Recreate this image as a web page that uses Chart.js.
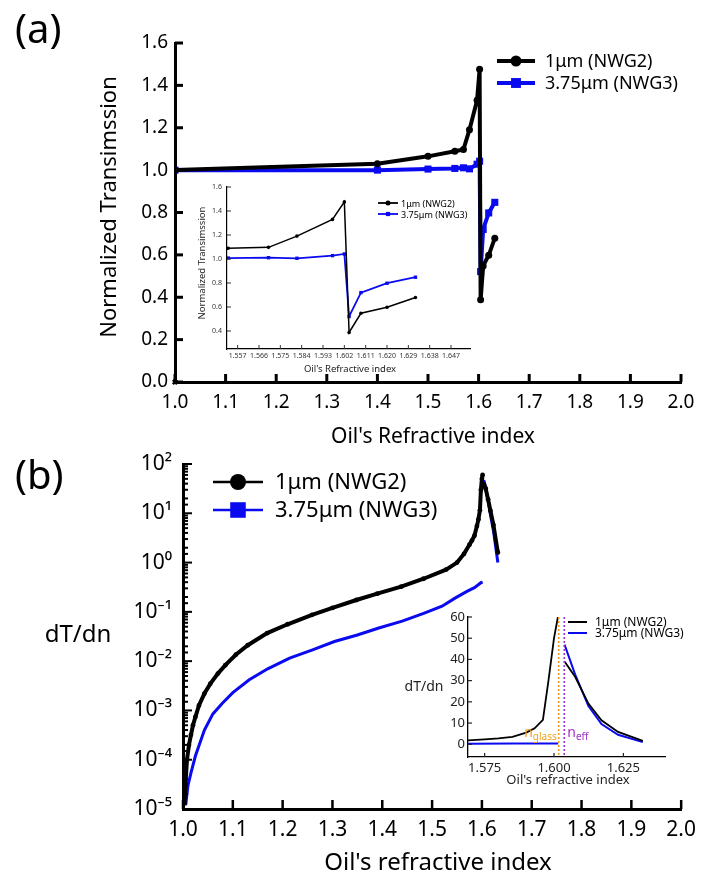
<!DOCTYPE html>
<html>
<head>
<meta charset="utf-8">
<script src="https://cdn.jsdelivr.net/npm/chart.js@4.4.0/dist/chart.umd.min.js"></script>
<style>
  body { margin: 0; background: #fff; }
  #wrap { position: relative; width: 704px; height: 880px; overflow: hidden; font-family: 'Noto Sans', sans-serif; }
  canvas { position: absolute; }
  .panel { position: absolute; font-size: 40px; line-height: 1; color: #000; }
</style>
</head>
<body>
<div id="wrap">
  <canvas id="topMain" width="704" height="450" style="left:0;top:0"></canvas>
  <canvas id="topInset" width="300" height="210" style="left:180px;top:170px"></canvas>
  <canvas id="botMain" width="704" height="440" style="left:0;top:440px"></canvas>
  <canvas id="botInset" width="304" height="210" style="left:400px;top:590px"></canvas>
  <div class="panel" style="left:15px;top:8px">(a)</div>
  <div class="panel" style="left:15px;top:454px">(b)</div>
</div>
<script>
// ---- data ----
const seriesNames = ["1\u03bcm (NWG2)", "3.75\u03bcm (NWG3)"];

// (a) normalized transmission vs oil index
const topN     = [1.0, 1.4, 1.5, 1.553, 1.570, 1.582, 1.597, 1.602, 1.604, 1.609, 1.620, 1.632];
const topBlack = [1.0, 1.03, 1.065, 1.089, 1.097, 1.191, 1.33, 1.476, 0.388, 0.548, 0.598, 0.679];
const topBlue  = [1.0, 1.0, 1.005, 1.008, 1.011, 1.006, 1.028, 1.042, 0.521, 0.72, 0.798, 0.848];
const topOrigin = [[1.0, 0.0]];
const topInsetXTicks = [1.557, 1.566, 1.575, 1.584, 1.593, 1.602, 1.611, 1.620, 1.629, 1.638, 1.647];
const topInsetYTicks = [0.4, 0.6, 0.8, 1.0, 1.2, 1.4, 1.6];

// (b) dT/dn vs oil index (null = break in the curve)
const botBlackN = [1.003, 1.005, 1.008, 1.012, 1.016, 1.020, 1.025, 1.032, 1.043, 1.055, 1.070, 1.085,
  1.106, 1.13, 1.169, 1.21, 1.259, 1.30, 1.348, 1.39, 1.438, 1.483, 1.528, 1.55, 1.564, 1.575,
  1.580, 1.585, 1.590, 1.593, 1.596, 1.598, 1.600, 1.6014, 1.6026, 1.6038, 1.6076, 1.6124, 1.6171, 1.6231, 1.632];
const botBlack = [1.3e-5, 3.2e-5, 1e-4, 2e-4, 3.2e-4, 5e-4, 7.4e-4, 1.26e-3, 2.2e-3, 3.5e-3, 5.6e-3, 8.3e-3,
  1.35e-2, 2.1e-2, 3.7e-2, 5.6e-2, 8.7e-2, 0.12, 0.174, 0.234, 0.324, 0.47, 0.72, 1.0, 1.5, 2.3,
  2.8, 3.5, 5.5, 7.5, 11.5, 30, 50, 60, null, 39, 31.8, 19.2, 11.3, 5.8, 1.6];
const botBlueN = [1.0054, 1.010, 1.016, 1.025, 1.043, 1.06, 1.079, 1.10, 1.133, 1.17, 1.214, 1.26,
  1.304, 1.35, 1.393, 1.44, 1.483, 1.52, 1.546, 1.57, 1.585, 1.598, 1.6015, 1.6026, 1.6038, 1.6076,
  1.6124, 1.6171, 1.6231, 1.632];
const botBlue = [1.2e-5, 3e-5, 5.4e-5, 1.2e-4, 4e-4, 8.5e-4, 1.4e-3, 2.3e-3, 4.2e-3, 7e-3, 1.15e-2, 1.7e-2,
  2.5e-2, 3.4e-2, 4.7e-2, 6.5e-2, 9.3e-2, 0.13, 0.19, 0.26, 0.31, 0.39, 0.4, null, 47, 33,
  18, 9.5, 4.5, 1.0];
const botInsetXTicks = [1.575, 1.600, 1.625];
const botInsetYTicks = [0, 10, 20, 30, 40, 50, 60];
const nGlass = 1.6017;
const nEff = 1.6037;

const BLACK = "#000000";
const BLUE = "#0a0af0";
const FONT = "'Noto Sans', sans-serif";

const pts = (xs, ys) => xs.map((x, i) => ({ x: x, y: ys[i] }));
const sup = (n) => String(n).split("").map(c => ({ "-": "\u207b", "0": "\u2070", "1": "\u00b9", "2": "\u00b2",
  "3": "\u00b3", "4": "\u2074", "5": "\u2075", "6": "\u2076", "7": "\u2077", "8": "\u2078", "9": "\u2079" })[c]).join("");

// ---- small plugins ----
const innerTicks = {
  id: "innerTicks",
  afterDatasetsDraw(chart, args, opts) {
    const ctx = chart.ctx;
    const area = chart.chartArea;
    ctx.save();
    ctx.strokeStyle = opts.color || "#000";
    ["x", "y"].forEach(id => {
      const s = chart.scales[id];
      const o = opts[id];
      if (!s || !o) return;
      ctx.lineWidth = o.width;
      s.ticks.forEach(t => {
        let major = true;
        if (s.type === "logarithmic") {
          const e = Math.log10(t.value);
          major = Math.abs(e - Math.round(e)) < 1e-6;
        }
        const len = major ? o.len : (o.minor || 0);
        if (!len) return;
        const p = s.getPixelForValue(t.value);
        ctx.beginPath();
        if (id === "x") { ctx.moveTo(p, area.bottom); ctx.lineTo(p, area.bottom - len); }
        else { ctx.moveTo(area.left, p); ctx.lineTo(area.left + len, p); }
        ctx.stroke();
      });
    });
    ctx.restore();
  }
};

const textLayer = {
  id: "textLayer",
  afterDraw(chart, args, opts) {
    const ctx = chart.ctx;
    (opts.items || []).forEach(it => {
      ctx.save();
      ctx.font = it.font;
      ctx.fillStyle = it.color || "#000";
      ctx.textAlign = it.align || "center";
      ctx.textBaseline = "middle";
      ctx.translate(it.x, it.y);
      if (it.rot) ctx.rotate(it.rot);
      ctx.fillText(it.text, 0, 0);
      ctx.restore();
    });
  }
};

const lineLegend = {
  id: "lineLegend",
  afterDraw(chart, args, opts) {
    const ctx = chart.ctx;
    (opts.items || []).forEach(it => {
      const ds = chart.data.datasets[it.index];
      ctx.save();
      ctx.strokeStyle = ds.borderColor;
      ctx.fillStyle = ds.borderColor;
      ctx.lineWidth = opts.lineWidth;
      ctx.beginPath();
      ctx.moveTo(it.x, it.y);
      ctx.lineTo(it.x + opts.len, it.y);
      ctx.stroke();
      if (it.marker) {
        Chart.helpers.drawPoint(ctx, { pointStyle: it.marker, radius: it.r, rotation: 0, borderWidth: 0 },
          it.x + opts.len / 2, it.y);
      }
      ctx.fillStyle = "#000";
      ctx.font = opts.font;
      ctx.textAlign = "left";
      ctx.textBaseline = "middle";
      ctx.fillText(ds.label, it.x + opts.len + opts.gap, it.y + 1);
      ctx.restore();
    });
  }
};

const vLines = {
  id: "vLines",
  afterDatasetsDraw(chart, args, opts) {
    const ctx = chart.ctx;
    const area = chart.chartArea;
    (opts.lines || []).forEach(l => {
      const x = chart.scales.x.getPixelForValue(l.value);
      ctx.save();
      ctx.strokeStyle = l.color;
      ctx.lineWidth = 1.6;
      ctx.setLineDash([2, 2]);
      ctx.beginPath();
      ctx.moveTo(x, area.top);
      ctx.lineTo(x, area.bottom);
      ctx.stroke();
      ctx.setLineDash([]);
      ctx.fillStyle = l.color;
      ctx.textBaseline = "alphabetic";
      ctx.font = "14px " + FONT;
      const nW = ctx.measureText("n").width;
      ctx.font = "10px " + FONT;
      const sW = ctx.measureText(l.sub).width;
      const x0 = l.side === "left" ? x - 2 - nW - sW : x + 3;
      ctx.font = "14px " + FONT;
      ctx.fillText("n", x0, l.y);
      ctx.font = "10px " + FONT;
      ctx.fillText(l.sub, x0 + nW, l.y + 3);
      ctx.restore();
    });
  }
};

Chart.register(innerTicks, textLayer, lineLegend, vLines);

function axisBase(fontSize, pad, border) {
  return {
    type: "linear",
    border: { display: true, color: "#000", width: border },
    grid: { display: true, drawOnChartArea: false, drawTicks: false },
    ticks: { color: "#000", font: { family: FONT, size: fontSize }, padding: pad, autoSkip: false, maxRotation: 0 }
  };
}

// ---- (a) main ----
const taX = axisBase(19, 9, 3);
taX.min = 1.0; taX.max = 2.0;
taX.ticks.stepSize = 0.1;
taX.ticks.callback = v => v.toFixed(1);
taX.afterFit = s => { s.height = 68; };
const taY = axisBase(19, 7, 3);
taY.min = 0; taY.max = 1.6;
taY.ticks.stepSize = 0.2;
taY.ticks.callback = v => v.toFixed(1);
taY.afterFit = s => { s.width = 175; };

new Chart(document.getElementById("topMain"), {
  type: "line",
  data: {
    datasets: [
      { label: seriesNames[0], data: pts(topN, topBlack), borderColor: BLACK, backgroundColor: BLACK,
        borderWidth: 4, pointStyle: "circle", pointRadius: 3.5, pointBorderWidth: 0 },
      { label: seriesNames[1], data: pts(topN, topBlue), borderColor: BLUE, backgroundColor: BLUE,
        borderWidth: 4, pointStyle: "rect", pointRadius: 5, pointBorderWidth: 0 },
      { label: "", data: topOrigin.map(p => ({ x: p[0], y: p[1] })), showLine: false, clip: false,
        borderColor: BLACK, backgroundColor: BLACK, pointStyle: "crossRot", pointRadius: 3, pointBorderWidth: 2.5 }
    ]
  },
  options: {
    responsive: false, animation: false,
    layout: { padding: { top: 43, right: 23, left: 0, bottom: 0 } },
    scales: { x: taX, y: taY },
    plugins: {
      legend: { display: false }, tooltip: { enabled: false },
      innerTicks: { x: { len: 8, width: 3 }, y: { len: 8, width: 3 } },
      lineLegend: { len: 38, gap: 10, lineWidth: 4, font: "18px " + FONT,
        items: [ { index: 0, x: 497, y: 61, marker: "circle", r: 5.5 },
                 { index: 1, x: 497, y: 83, marker: "rect", r: 7 } ] },
      textLayer: { items: [
        { text: "Normalized Transimssion", x: 110, y: 207, rot: -Math.PI / 2, font: "22px " + FONT },
        { text: "Oil's Refractive index", x: 433, y: 437, font: "21px " + FONT } ] }
    }
  }
});

// ---- (a) inset ----
const tiX = axisBase(7, 3, 1.2);
tiX.min = 1.5525; tiX.max = 1.655;
tiX.ticks.color = "#333";
tiX.afterBuildTicks = s => { s.ticks = topInsetXTicks.map(v => ({ value: v })); };
tiX.ticks.callback = v => v.toFixed(3);
tiX.afterFit = s => { s.height = 31; };
const tiY = axisBase(7, 5, 1.2);
tiY.min = 0.25; tiY.max = 1.6;
tiY.ticks.color = "#333";
tiY.afterBuildTicks = s => { s.ticks = topInsetYTicks.map(v => ({ value: v })); };
tiY.ticks.callback = v => v.toFixed(1);
tiY.afterFit = s => { s.width = 47; };

new Chart(document.getElementById("topInset"), {
  type: "line",
  data: {
    datasets: [
      { label: seriesNames[0], data: pts(topN, topBlack), borderColor: BLACK, backgroundColor: BLACK,
        borderWidth: 1.5, pointStyle: "circle", pointRadius: 1.8, pointBorderWidth: 0 },
      { label: seriesNames[1], data: pts(topN, topBlue), borderColor: BLUE, backgroundColor: BLUE,
        borderWidth: 1.8, pointStyle: "rect", pointRadius: 2.4, pointBorderWidth: 0 }
    ]
  },
  options: {
    responsive: false, animation: false,
    layout: { padding: { top: 17, right: 10, left: 0, bottom: 0 } },
    scales: { x: tiX, y: tiY },
    plugins: {
      legend: { display: false }, tooltip: { enabled: false },
      innerTicks: { color: "#333", x: { len: 4, width: 1 }, y: { len: 4, width: 1 } },
      lineLegend: { len: 20, gap: 3, lineWidth: 1.8, font: "9px " + FONT,
        items: [ { index: 0, x: 198, y: 33, marker: "circle", r: 2.5 },
                 { index: 1, x: 198, y: 44, marker: "rect", r: 3 } ] },
      textLayer: { items: [
        { text: "Normalized Transimssion", x: 22, y: 93, rot: -Math.PI / 2, font: "9.5px " + FONT, color: "#222" },
        { text: "Oil's Refractive index", x: 170, y: 199, font: "9.5px " + FONT, color: "#222" } ] }
    }
  }
});

// ---- (b) main ----
const bmX = axisBase(21, 8, 3);
bmX.min = 1.0; bmX.max = 2.0;
bmX.ticks.stepSize = 0.1;
bmX.ticks.callback = v => v.toFixed(1);
bmX.afterFit = s => { s.height = 71; };
const bmY = axisBase(21, 11, 3);
bmY.type = "logarithmic";
bmY.min = 1e-5; bmY.max = 1e2;
bmY.ticks.callback = v => {
  const e = Math.log10(v);
  return Math.abs(e - Math.round(e)) < 1e-6 ? "10" + sup(Math.round(e)) : "";
};
bmY.afterFit = s => { s.width = 183; };

new Chart(document.getElementById("botMain"), {
  type: "line",
  data: {
    datasets: [
      { label: seriesNames[0], data: pts(botBlackN, botBlack), borderColor: BLACK, backgroundColor: BLACK,
        borderWidth: 4, pointStyle: "circle", pointRadius: 2.4, pointBorderWidth: 0, spanGaps: false },
      { label: seriesNames[1], data: pts(botBlueN, botBlue), borderColor: BLUE, backgroundColor: BLUE,
        borderWidth: 3, pointRadius: 0, spanGaps: false }
    ]
  },
  options: {
    responsive: false, animation: false,
    layout: { padding: { top: 24, right: 19, left: 0, bottom: 0 } },
    scales: { x: bmX, y: bmY },
    plugins: {
      legend: { display: false }, tooltip: { enabled: false },
      innerTicks: { x: { len: 9, width: 2.5 }, y: { len: 9, minor: 5, width: 2 } },
      lineLegend: { len: 50, gap: 12, lineWidth: 2.5, font: "22px " + FONT,
        items: [ { index: 0, x: 213, y: 42, marker: "circle", r: 8 },
                 { index: 1, x: 213, y: 70, marker: "rect", r: 11 } ] },
      textLayer: { items: [
        { text: "dT/dn", x: 78, y: 195, font: "24px " + FONT },
        { text: "Oil's refractive index", x: 438, y: 423, font: "24px " + FONT } ] }
    }
  }
});

// ---- (b) inset ----
const biX = axisBase(13, 3, 1.3);
biX.min = 1.569; biX.max = 1.640;
biX.ticks.color = "#222";
biX.afterBuildTicks = s => { s.ticks = botInsetXTicks.map(v => ({ value: v })); };
biX.ticks.callback = v => v.toFixed(3);
biX.afterFit = s => { s.height = 43; };
const biY = axisBase(13, 3, 1.3);
biY.min = -6; biY.max = 60;
biY.ticks.color = "#222";
biY.afterBuildTicks = s => { s.ticks = botInsetYTicks.map(v => ({ value: v })); };
biY.ticks.callback = v => String(v);
biY.afterFit = s => { s.width = 68; };

new Chart(document.getElementById("botInset"), {
  type: "line",
  data: {
    datasets: [
      { label: seriesNames[0], data: pts(botBlackN, botBlack), borderColor: BLACK,
        borderWidth: 1.8, pointRadius: 0, spanGaps: false },
      { label: seriesNames[1], data: pts(botBlueN, botBlue), borderColor: BLUE,
        borderWidth: 2, pointRadius: 0, spanGaps: false }
    ]
  },
  options: {
    responsive: false, animation: false,
    layout: { padding: { top: 27, right: 39, left: 0, bottom: 0 } },
    scales: { x: biX, y: biY },
    plugins: {
      legend: { display: false }, tooltip: { enabled: false },
      innerTicks: { color: "#222", x: { len: 4, width: 1.2 }, y: { len: 4, width: 1.2 } },
      vLines: { lines: [
        { value: nGlass, color: "#f0a020", sub: "glass", side: "left", y: 147 },
        { value: nEff, color: "#a030c8", sub: "eff", side: "right", y: 147 } ] },
      lineLegend: { len: 19, gap: 8, lineWidth: 2, font: "12px " + FONT,
        items: [ { index: 0, x: 168, y: 32 }, { index: 1, x: 168, y: 43 } ] },
      textLayer: { items: [
        { text: "dT/dn", x: 24, y: 97, font: "14px " + FONT, color: "#222" },
        { text: "Oil's refractive index", x: 168, y: 190, font: "13px " + FONT, color: "#222" } ] }
    }
  }
});
</script>
</body>
</html>
